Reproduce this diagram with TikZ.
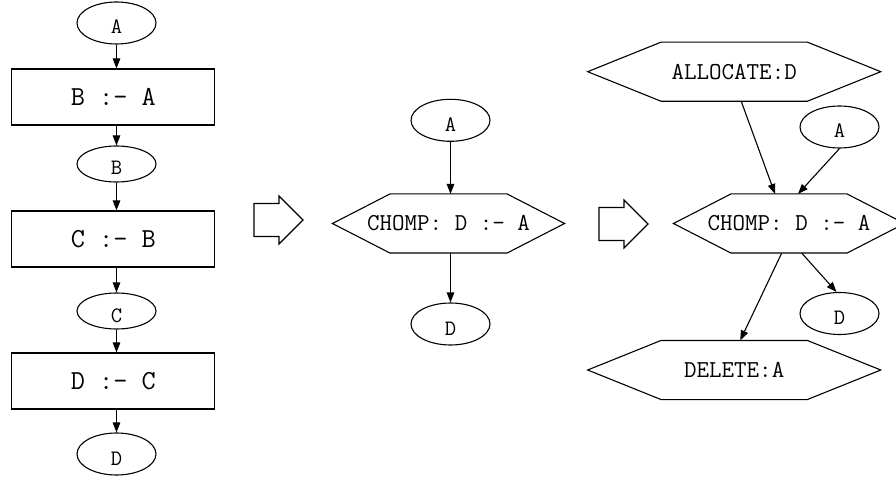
\documentclass[tikz,border=0pt]{standalone}
\usepackage{fontspec}
\setmonofont{Latin Modern Mono}
\usetikzlibrary{shapes.geometric,arrows.meta}

\tikzset{
  var/.style={ellipse, draw, minimum width=79pt, minimum height=42pt, inner sep=0pt,
    text height=22pt, text depth=0pt, font=\ttfamily\fontsize{22}{22}\selectfont},
  stmt/.style={rectangle, draw, minimum width=203pt, minimum height=56pt, inner sep=0pt,
    font=\ttfamily\fontsize{27.5}{27.5}\selectfont},
  op/.style={rectangle, minimum height=58pt, inner sep=0pt,
    font=\ttfamily\fontsize{24.3}{24.3}\selectfont},
  flow/.style={-{Triangle[length=10pt,width=7.5pt]}},
  bigarrow/.pic={
    \draw (0,-16.5) -- (25,-16.5) -- (25,-24) -- (49,0) -- (25,24) -- (25,16.5) -- (0,16.5) -- cycle;
  }
}

\begin{document}
\begin{tikzpicture}[x=1pt, y=-1pt, line width=1.1pt]
  \useasboundingbox (0,0) rectangle (896,478);
  \clip (0,0) rectangle (896,478);

  % straight-line code
  \node[var] (a1) at (116.5,23) {A};
  \node[stmt] (s1) at (113.3,97) {B :- A};
  \node[var, minimum height=36pt] (b1) at (116.5,164) {B};
  \node[stmt] (s2) at (113.3,239) {C :- B};
  \node[var, minimum height=36pt] (c1) at (116.5,311) {C};
  \node[stmt] (s3) at (113.3,381) {D :- C};
  \node[var] (d1) at (116.5,454) {D};

  \draw[flow] (a1) -- (a1 |- s1.north);
  \draw[flow] (s1.south -| b1) -- (b1);
  \draw[flow] (b1) -- (b1 |- s2.north);
  \draw[flow] (s2.south -| c1) -- (c1);
  \draw[flow] (c1) -- (c1 |- s3.north);
  \draw[flow] (s3.south -| d1) -- (d1);

  \pic at (254,220) {bigarrow};

  % chomped into one op
  \node[var] (a2) at (450.5,120.3) {A};
  \node[op, minimum width=231pt] (chomp1) at (448.5,223.5) {CHOMP: D :- A};
  \node[var] (d2) at (450.5,324) {D};

  \draw[flow] (a2) -- (a2 |- chomp1.north);
  \draw[flow] (chomp1.south -| d2) -- (d2);

  \pic at (599,224) {bigarrow};

  % with explicit allocate / delete
  \node[op, minimum width=292pt] (alloc) at (734.2,71.7) {ALLOCATE:D};
  \node[var] (a3) at (839.5,127) {A};
  \node[op, minimum width=230pt] (chomp2) at (789,223.5) {CHOMP: D :- A};
  \node[var] (d3) at (839.5,313.5) {D};
  \node[op, minimum width=292pt] (dealloc) at (734.2,370) {DELETE:A};

  \draw[flow] ([xshift=7pt]alloc.south) -- ([xshift=-14pt]chomp2.north);
  \draw[flow] (a3.south) -- ([xshift=9pt]chomp2.north);
  \draw[flow] ([xshift=12.7pt]chomp2.south) -- ([xshift=-3pt]d3.north);
  \draw[flow] ([xshift=-7.3pt]chomp2.south) -- ([xshift=6pt]dealloc.north);

  % hexagon outlines
  \foreach \n/\s in {chomp1/57.5, alloc/73.4, chomp2/57.5, dealloc/73.4}
    \draw (\n.west) -- ([xshift=\s pt]\n.north west) -- ([xshift=-\s pt]\n.north east)
      -- (\n.east) -- ([xshift=-\s pt]\n.south east) -- ([xshift=\s pt]\n.south west) -- cycle;
\end{tikzpicture}
\end{document}
